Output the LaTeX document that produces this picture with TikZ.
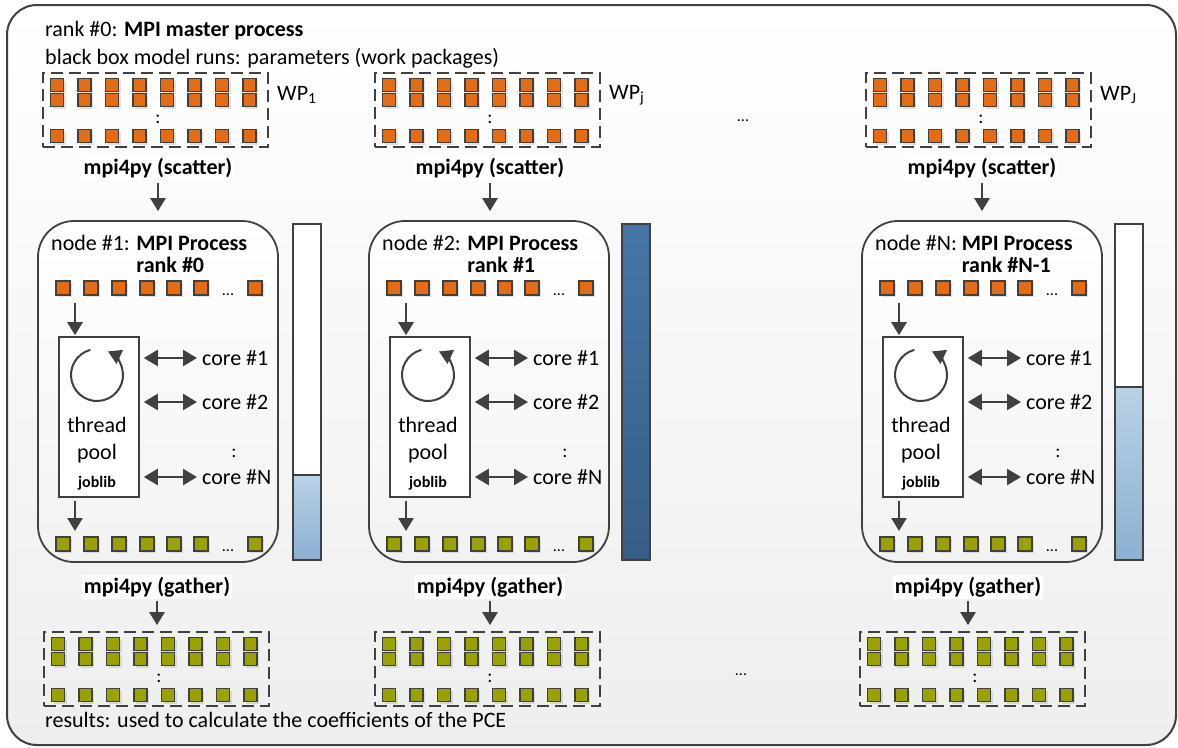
\documentclass[tikz,border=0pt]{standalone}
\usepackage{fontspec}
\setmainfont{Carlito}
\usetikzlibrary{arrows.meta,positioning,shadows}
\definecolor{linegray}{RGB}{64,64,64}
\definecolor{wporange}{RGB}{228,108,20}
\definecolor{resgreen}{RGB}{153,162,0}
\definecolor{bgbottom}{RGB}{238,238,238}
\definecolor{procbottom}{RGB}{242,242,242}
\definecolor{light1}{RGB}{186,209,229}
\definecolor{light2}{RGB}{140,176,210}
\definecolor{dark1}{RGB}{70,118,166}
\definecolor{dark2}{RGB}{54,93,135}

\begin{document}
\begin{tikzpicture}[x=1pt,y=-1pt,
 every node/.style={font=\fontsize{22}{26}\selectfont},
 master/.style={draw=linegray,line width=2pt,rounded corners=30pt,top color=white,bottom color=bgbottom,minimum width=1169pt,minimum height=740pt},
 proc/.style={draw=linegray,line width=1.8pt,rounded corners=36pt,top color=white,bottom color=procbottom,minimum width=240pt,minimum height=341pt},
 wpbox/.style={draw=linegray,line width=1.8pt,dash pattern=on 12pt off 6pt,minimum width=225pt,minimum height=74pt,inner sep=0pt},
 sq/.style={draw=linegray,line width=1.7pt,inner sep=0pt,minimum size=13pt,drop shadow={shadow xshift=2pt,shadow yshift=-2pt,opacity=.22}},
 osq/.style={sq,fill=wporange},
 gsq/.style={sq,fill=resgreen},
 pool/.style={draw=linegray,line width=1.6pt,fill=white,minimum width=80pt,minimum height=160pt},
 bar/.style={draw=linegray,line width=1.8pt,minimum width=28pt,minimum height=336pt},
 lbl/.style={font=\fontsize{22}{26}\selectfont\bfseries,fill=white,inner sep=2pt},
 small/.style={font=\fontsize{16}{16}\selectfont,inner sep=0pt},
 vdots/.style={font=\fontsize{19}{19}\selectfont,inner sep=0pt},
 flow/.style={-{Triangle[width=15pt,length=13pt]},line width=2.6pt,draw=linegray},
 dflow/.style={{Triangle[width=16pt,length=14pt]}-{Triangle[width=16pt,length=14pt]},line width=2.6pt,draw=linegray}]
\useasboundingbox (0,0) rectangle (1178,747);
\node[master] (master) at (591.5,375) {};
\node[anchor=base west,inner sep=0pt] (title) at (45,36) {rank \#0: \textbf{MPI master process}};
\node[anchor=base west,inner sep=0pt] (params) at (45,64) {black box model runs: parameters (work packages)};
\node[anchor=base west,inner sep=0pt] (results) at (45,727) {results: used to calculate the coefficients of the PCE};
\node[small,anchor=base] (gaptop) at (743,121) {...};
\node[small,anchor=base] (gapbot) at (741,675) {...};

\foreach \c/\L/\W/\R/\B/\lev/\load/\sx/\gx/\wp/\nd/\rk in
 {1/38/43/44/293/475/light/158/157/1/1/0,
  2/369/375/375/622/224/dark/490/490/j/2/1,
  3/862/866/860/1115/387/light/982/968/J/N/N-1}{
 % work package from the master
 \node[wpbox] (wp\c) at ({\W+112.5},110) {};
 \foreach \i in {0,...,7}
  \foreach \r/\y in {a/85,b/100,c/136}
   \node[osq] (wp\c\r\i) at ({\W+14+27.5*\i},\y) {};
 \node[vdots] (wpdots\c) at ({\W+115},119) {:};
 \node[anchor=west,inner sep=0pt] (wplab\c) at ({\W+234},95) {WP\textsubscript{\wp}};
 \node[lbl] (scat\c) at (\sx,168) {mpi4py (scatter)};

 % MPI process on one node
 \node[proc] (proc\c) at ({\L+120},391.5) {};
 \draw[flow,shorten <=3pt,shorten >=9pt] (scat\c.south) -- (scat\c.south |- proc\c.north);
 \node[anchor=north west,inner sep=0pt,align=left,font=\fontsize{22}{22}\selectfont] (head\c) at ({\L+13},235)
  {node \#\nd: \textbf{MPI Process}\\\hphantom{node \#\nd: }\textbf{rank \#\rk}};
 \foreach \i/\dx in {1/25,2/53,3/81,4/109,5/136,6/163,7/217}{
  \node[osq,minimum size=14pt] (in\c\i) at ({\L+\dx},288) {};
  \node[gsq,minimum size=14pt] (out\c\i) at ({\L+\dx},544) {};
 }
 \node[small,anchor=base] (indots\c) at ({\L+190},295) {...};
 \node[small,anchor=base] (outdots\c) at ({\L+190},551) {...};

 \node[pool] (pool\c) at ({\L+61},417) {};
 \coordinate (tin\c) at ({\L+37},303);
 \coordinate (tout\c) at ({\L+37},531);
 \draw[flow,shorten >=1pt] (tin\c) -- (tin\c |- pool\c.north);
 \draw[flow,shorten <=3pt] (tout\c |- pool\c.south) -- (tout\c);
 \coordinate (spin\c) at ({\L+59},375);
 \draw[line width=2pt,draw=linegray,-{Triangle[width=15pt,length=13pt]}]
  (spin\c) ++(105:26pt) arc[start angle=105,end angle=425,radius=26pt];
 \node[anchor=base,inner sep=0pt] (thr\c) at ({\L+59},432) {thread};
 \node[anchor=base,inner sep=0pt] (pl\c) at ({\L+59},459) {pool};
 \node[anchor=base,inner sep=0pt,font=\fontsize{16}{16}\selectfont\bfseries] (jl\c) at ({\L+59},487) {joblib};
 \foreach \k/\y/\t in {1/358/1,2/402/2,3/477/N}{
  \node[anchor=west,inner sep=0pt] (core\c\k) at ({\L+164},\y) {core \#\t};
  \draw[dflow,shorten <=4pt,shorten >=5pt] (pool\c.east |- core\c\k) -- (core\c\k);
 }
 \node[vdots] (coredots\c) at ({\L+196},453) {:};

 % load of the node
 \fill[white] (\B,224) rectangle ({\B+28},560);
 \shade[top color=\load1,bottom color=\load2] (\B,\lev) rectangle ({\B+28},560);
 \draw[linegray,line width=1.8pt] (\B,\lev) -- ({\B+28},\lev);
 \node[bar] (bar\c) at ({\B+14},392) {};

 % results back to the master
 \node[lbl] (gath\c) at (\gx,587) {mpi4py (gather)};
 \node[wpbox] (res\c) at ({\R+112.5},669) {};
 \draw[flow,shorten <=2pt,shorten >=6pt] (gath\c.south) -- (gath\c.south |- res\c.north);
 \foreach \i in {0,...,7}
  \foreach \r/\y in {a/644,b/659,c/695}
   \node[gsq] (res\c\r\i) at ({\R+14+27.5*\i},\y) {};
 \node[vdots] (resdots\c) at ({\R+115},678) {:};
}
\end{tikzpicture}
\end{document}
